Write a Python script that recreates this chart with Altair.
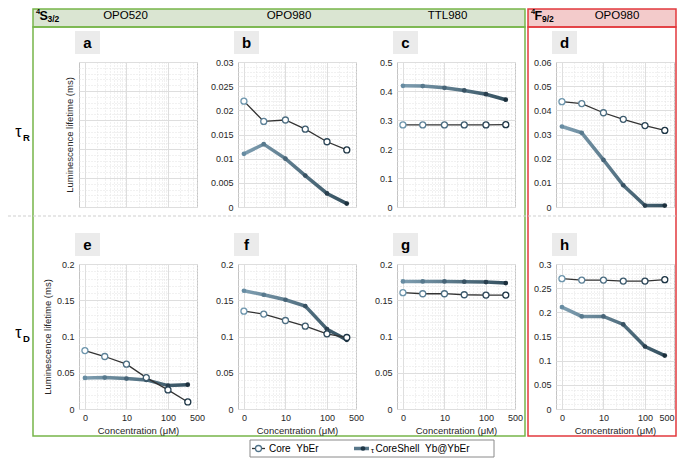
import altair as alt
import numpy as np
import pandas as pd

# ---------------- data ----------------
conc_pos = [1, 3, 10, 30, 100, 300]          # plotted positions (log axis, "0" shown at 1)
x_tick_values = [1, 10, 100, 500]
x_tick_labels = ["0", "10", "100", "500"]
x_domain = [0.72, 500]

core_b = [0.0219, 0.0177, 0.0180, 0.0161, 0.0135, 0.0118]
shell_b = [0.0110, 0.0130, 0.0100, 0.0065, 0.0028, 0.0007]
core_c = [0.283, 0.283, 0.283, 0.283, 0.283, 0.284]
shell_c = [0.418, 0.417, 0.411, 0.402, 0.389, 0.370]
core_d = [0.0436, 0.0428, 0.0390, 0.0363, 0.0337, 0.0317]
shell_d = [0.0333, 0.0307, 0.0195, 0.0090, 0.0006, 0.0006]
core_e = [0.0806, 0.0724, 0.0618, 0.0433, 0.0263, 0.0097]
shell_e = [0.0429, 0.0433, 0.0419, 0.0401, 0.0323, 0.0336]
core_f = [0.1350, 0.1309, 0.1221, 0.1143, 0.1037, 0.0986]
shell_f = [0.1631, 0.1576, 0.1507, 0.1419, 0.1101, 0.0954]
core_g = [0.1604, 0.1590, 0.1590, 0.1576, 0.1571, 0.1571]
shell_g = [0.1760, 0.1760, 0.1760, 0.1756, 0.1751, 0.1737]
core_h = [0.2696, 0.2668, 0.2668, 0.2647, 0.2647, 0.2675]
shell_h = [0.2108, 0.1915, 0.1915, 0.1749, 0.1293, 0.1106]

panel_letters = ["a", "b", "c", "d", "e", "f", "g", "h"]
panel_core = [None, core_b, core_c, core_d, core_e, core_f, core_g, core_h]
panel_shell = [None, shell_b, shell_c, shell_d, shell_e, shell_f, shell_g, shell_h]
panel_ymax = [1.0, 0.03, 0.5, 0.06, 0.2, 0.2, 0.2, 0.3]
panel_ystep = [0.2, 0.005, 0.1, 0.01, 0.05, 0.05, 0.05, 0.05]
panel_yminor = [0.04, 0.001, 0.02, 0.002, 0.01, 0.01, 0.01, 0.01]

header_green = ["OPO520", "OPO980", "TTL980"]
header_red = ["OPO980"]
y_title = "Luminescence lifetime (ms)"
x_title = "Concentration (μM)"
legend_core = "Core\u00a0\u00a0YbEr"
legend_shell = "CoreShell\u00a0\u00a0Yb@YbEr"

FONT = "Liberation Sans"
W, H = 118, 145
DUMMY = pd.DataFrame({"d": [0]})

x_minor = [m * 10 ** k for k in range(0, 3) for m in range(1, 10) if m * 10 ** k <= 500]
x_major_test = "indexof([1, 10, 100], datum.value) >= 0"
x_label_expr = "''"
for v, l in reversed(list(zip(x_tick_values, x_tick_labels))):
    x_label_expr = f"datum.value == {v} ? '{l}' : ({x_label_expr})"

MAJOR_GRID = "#dedede"
MINOR_GRID = "#e2e2e2"


def rect(x, x2, y, y2, **kw):
    return alt.Chart(DUMMY).mark_rect(**kw).encode(
        x=alt.value(x), x2=alt.value(x2), y=alt.value(y), y2=alt.value(y2))


def text(x, y, s, size=11, weight="normal", align="left", baseline="middle", color="#000000"):
    kw = dict(font=FONT, fontSize=size, fontWeight=weight, align=align, baseline=baseline, color=color)
    return alt.Chart(DUMMY).mark_text(**kw).encode(
        x=alt.value(x), y=alt.value(y), text=alt.value(s))


def rule(x, x2, y, **kw):
    return alt.Chart(DUMMY).mark_rule(**kw).encode(x=alt.value(x), x2=alt.value(x2), y=alt.value(y))


def decorations():
    # coordinates relative to panel a's plot origin (page position 79, 62)
    G, GF, R, RF = "#77b54a", "#dae5d2", "#e23a3e", "#f3cbcb"
    L = []
    L.append(rect(-46, 446, -53, -35, fill=GF, stroke=G, strokeWidth=1.5))
    L.append(rect(-46, 446, -35, 374, fill="transparent", stroke=G, strokeWidth=1.5))
    L.append(rect(449, 597, -53, -35, fill=RF, stroke=R, strokeWidth=1.5))
    L.append(rect(449, 597, -35, 374, fill="transparent", stroke=R, strokeWidth=1.5))
    L.append(rule(-71, 598, 154, color="#cfcfcf", strokeDash=[3, 2], strokeWidth=1))
    # header texts
    L.append(text(-43, -50, "4", size=7.5, weight="bold"))
    L.append(text(-39.5, -46, "S", size=12.5, weight="bold"))
    L.append(text(-31.5, -43, "3/2", size=8.5, weight="bold"))
    for cx, s in zip([46.5, 210, 368.5], header_green):
        L.append(text(cx, -46.5, s, size=11.5, align="center"))
    L.append(text(452, -50, "4", size=7.5, weight="bold"))
    L.append(text(455.5, -46, "F", size=12.5, weight="bold"))
    L.append(text(463, -43, "9/2", size=8.5, weight="bold"))
    L.append(text(538, -46.5, header_red[0], size=11.5, align="center"))
    # row labels
    L.append(text(-60.5, 70, "τ", size=16, align="center"))
    L.append(text(-56, 76, "R", size=9.5, weight="bold"))
    L.append(text(-60.5, 271, "τ", size=16, align="center"))
    L.append(text(-56, 277, "D", size=9.5, weight="bold"))
    # legend
    ly = 386.5
    L.append(rect(171, 415, 378, 395, fill="white", stroke="#8a8a8a", strokeWidth=1))
    L.append(rule(173, 186, ly, color="#333333", strokeWidth=1.3))
    L.append(alt.Chart(DUMMY).mark_point(shape="circle", filled=True, fill="white", stroke="#4f7289",
                                         strokeWidth=1.3, size=36, opacity=1).encode(
        x=alt.value(179.5), y=alt.value(ly)))
    L.append(text(190, ly, legend_core, size=10))
    L.append(rule(275, 290, ly, color="#58778a", strokeWidth=3.5))
    L.append(alt.Chart(DUMMY).mark_circle(size=22, opacity=1, color="#1f3646").encode(
        x=alt.value(284), y=alt.value(ly)))
    L.append(text(292, ly + 2, "τ", size=7.5))
    L.append(text(296.5, ly, legend_shell, size=10))
    return L


def make_panel(i):
    letter = panel_letters[i]
    core, shell = panel_core[i], panel_shell[i]
    ymax, ystep, yminor = panel_ymax[i], panel_ystep[i], panel_yminor[i]
    bottom = i >= 4
    first_col = i % 4 == 0
    last_col = i % 4 == 3

    y_vals = [round(float(v), 6) for v in np.arange(0, ymax + yminor / 2, yminor)]
    y_major_test = f"abs(datum.value / {ystep} - round(datum.value / {ystep})) < 0.001"
    y_axis = alt.Axis(
        values=y_vals, grid=True, labels=(core is not None),
        labelExpr=f"{y_major_test} ? format(datum.value, '~g') : ''",
        labelOverlap=False, labelPadding=5, titlePadding=5 if core is None else 4,
        gridColor={"condition": {"test": y_major_test, "value": MAJOR_GRID}, "value": MINOR_GRID},
        gridDash={"condition": {"test": y_major_test, "value": []}, "value": [1, 2]},
    )
    x_axis = alt.Axis(
        values=x_minor, grid=True, labels=bottom, labelExpr=x_label_expr,
        labelOverlap=False, labelFlush=last_col, labelPadding=4, titlePadding=3,
        gridColor={"condition": {"test": x_major_test, "value": MAJOR_GRID}, "value": MINOR_GRID},
        gridDash={"condition": {"test": x_major_test, "value": []}, "value": [1, 2]},
    )
    xs = alt.Scale(type="log", domain=x_domain, nice=False)
    ys = alt.Scale(domain=[0, ymax], nice=False, zero=True)

    if core is None:
        df = pd.DataFrame({"x": [conc_pos[0]], "y": [0.0], "s": ["none"]})
    else:
        df = pd.DataFrame({"x": conc_pos + conc_pos, "y": core + shell,
                           "s": ["Core"] * 6 + ["CoreShell"] * 6})

    base = alt.Chart(df).encode(
        x=alt.X("x:Q", scale=xs, axis=x_axis, title=x_title if bottom else None),
        y=alt.Y("y:Q", scale=ys, axis=y_axis, title=y_title if first_col else None),
    )
    layers = []
    if i == 0:
        layers += decorations()
    if core is None:
        layers.append(base.mark_point(opacity=0))
    else:
        shell_grad = alt.LinearGradient(
            gradient="linear", x1=0, x2=1, y1=0, y2=0,
            stops=[alt.GradientStop(color="#7e9eb1", offset=0),
                   alt.GradientStop(color="#34505f", offset=1)])
        layers.append(base.transform_filter("datum.s == 'CoreShell'").mark_line(
            color=shell_grad, strokeWidth=3.5))
        layers.append(base.transform_filter("datum.s == 'CoreShell'").mark_circle(
            size=22, opacity=1).encode(
            color=alt.Color("x:Q", scale=alt.Scale(type="log", domain=[1, 300],
                                                   range=["#678ca2", "#1b2f3c"]), legend=None)))
        layers.append(base.transform_filter("datum.s == 'Core'").mark_line(
            color="#333333", strokeWidth=1.3))
        layers.append(base.transform_filter("datum.s == 'Core'").mark_point(
            shape="circle", filled=True, fill="white", strokeWidth=1.3, size=36, opacity=1).encode(
            stroke=alt.Stroke("x:Q", scale=alt.Scale(type="log", domain=[1, 300],
                                                     range=["#6e96ad", "#1d3545"]), legend=None)))
    # panel letter
    layers.append(rect(-4, 21, -31, -8, fill="#ebebeb"))
    layers.append(text(8.5, -19, letter, size=15, weight="bold", align="center"))
    return alt.layer(*layers).properties(width=W, height=H)


panels = [make_panel(i) for i in range(8)]

chart = alt.concat(*panels, columns=4, spacing={"row": 57, "column": 41}).properties(
    bounds="flush",
    autosize=alt.AutoSizeParams(type="none"),
    padding={"left": 71, "top": 54, "right": 598, "bottom": 396},
    background="white",
).configure_view(stroke="#c4c4c4", strokeWidth=1).configure_axis(
    labelFont=FONT, labelFontSize=9, labelColor="#262626",
    titleFont=FONT, titleFontSize=9.5, titleFontWeight="normal", titleColor="#262626",
    domain=False, ticks=False,
)

chart.save("out.html", embed_options={"renderer": "svg", "actions": False})
